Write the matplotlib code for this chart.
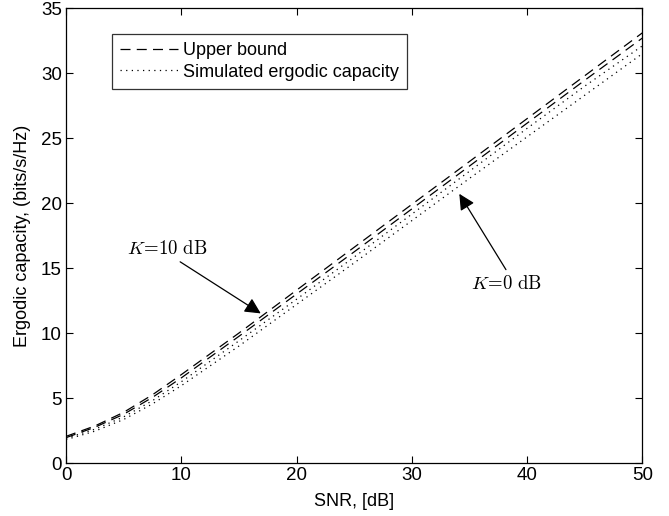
import matplotlib
matplotlib.use("Agg")
import matplotlib.pyplot as plt

snr = [0, 2.5, 5, 7.5, 10, 15, 20, 25, 30, 35, 40, 45, 50]
ub_k10 = [2.05, 2.85, 3.9, 5.25, 6.8, 10.0, 13.3, 16.6, 19.9, 23.2, 26.5, 29.8, 33.1]
ub_k0 = [1.95, 2.75, 3.75, 5.05, 6.55, 9.75, 13.0, 16.25, 19.55, 22.85, 26.15, 29.45, 32.7]
sim_k10 = [1.9, 2.6, 3.55, 4.8, 6.25, 9.4, 12.6, 15.85, 19.15, 22.45, 25.75, 29.0, 32.1]
sim_k0 = [1.8, 2.45, 3.35, 4.55, 5.95, 9.0, 12.2, 15.4, 18.65, 21.9, 25.1, 28.3, 31.5]

plt.rcParams['font.family'] = ['Liberation Sans', 'DejaVu Sans']
plt.rcParams['mathtext.fontset'] = 'cm'

fig = plt.figure(figsize=(6.69, 5.16), dpi=100)
ax = fig.add_axes([0.0987, 0.1027, 0.8613, 0.8813])

dash = (0, (8, 5))
dot = (0, (1, 3.5))
l1, = ax.plot(snr, ub_k10, color='k', lw=0.9, linestyle=dash, label='Upper bound')
ax.plot(snr, ub_k0, color='k', lw=0.9, linestyle=dash)
l2, = ax.plot(snr, sim_k10, color='k', lw=0.9, linestyle=dot, label='Simulated ergodic capacity')
ax.plot(snr, sim_k0, color='k', lw=0.9, linestyle=dot)

ax.set_xlim(0, 50)
ax.set_ylim(0, 35)
ax.set_xticks([0, 10, 20, 30, 40, 50])
ax.set_yticks([0, 5, 10, 15, 20, 25, 30, 35])
ax.tick_params(direction='in', top=True, right=True, labelsize=13.5, length=5, width=0.8, pad=3)
for s in ax.spines.values():
    s.set_linewidth(0.9)
ax.set_xlabel('SNR, [dB]', fontsize=13, labelpad=6)
ax.set_ylabel('Ergodic capacity, (bits/s/Hz)', fontsize=13, labelpad=7)

leg = ax.legend(handles=[l1, l2], loc='upper left', bbox_to_anchor=(0.08, 0.943),
                fontsize=13, frameon=True, fancybox=False, edgecolor='k',
                handlelength=3.2, handletextpad=0.3, borderpad=0.45, labelspacing=0.25,
                borderaxespad=0)
leg.get_frame().set_linewidth(0.9)

ax.annotate('', xy=(17.1, 11.4), xytext=(9.7, 15.6),
            arrowprops=dict(arrowstyle='-|>', mutation_scale=24, color='k', lw=0.9))
ax.text(5.3, 16.5, r'$K\!=\!10\ \mathrm{dB}$', fontsize=13.5, va='center', ha='left')
ax.annotate('', xy=(34.0, 20.9), xytext=(38.3, 14.7),
            arrowprops=dict(arrowstyle='-|>', mutation_scale=24, color='k', lw=0.9))
ax.text(35.1, 13.8, r'$K\!=\!0\ \mathrm{dB}$', fontsize=13.5, va='center', ha='left')

fig.savefig('out.png', dpi=100)
